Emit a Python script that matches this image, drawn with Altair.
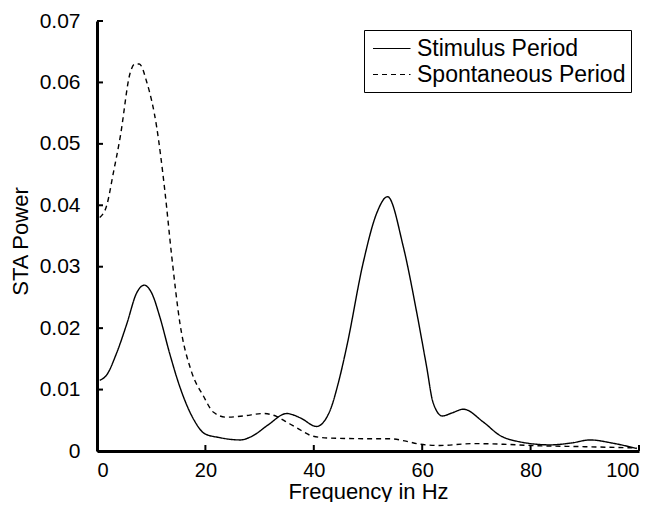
import altair as alt
import pandas as pd

stim_x = [0.5, 1.8, 3.6, 5.5, 7.3, 8.7, 10.1, 11.6, 13.4, 15.3, 17.8, 19.9, 22.5, 26.4, 28.8, 31.5,
          35.0, 37.5, 40.5, 43.0, 44.5, 46.1, 49.1, 51.6, 53.6, 56.5, 59.0, 60.8, 62.0, 63.7, 65.5,
          67.6, 71.3, 74.4, 77.4, 83.6, 87.5, 91.0, 95.0, 99.6]
stim_y = [0.0115, 0.0124, 0.0159, 0.0207, 0.0257, 0.0270, 0.0257, 0.0218, 0.0159, 0.0104, 0.0052,
          0.0028, 0.0022, 0.0018, 0.0025, 0.0042, 0.0061, 0.0054, 0.0040, 0.0066, 0.0110, 0.0171,
          0.0306, 0.0387, 0.0414, 0.0333, 0.0225, 0.0138, 0.0079, 0.0057, 0.0062, 0.0068, 0.0047,
          0.0025, 0.0016, 0.0010, 0.0013, 0.0018, 0.0013, 0.0004]

spon_x = [0.5, 1.8, 3.0, 4.3, 6.1, 7.0, 7.8, 9.2, 11.0, 12.5, 13.8, 15.3, 17.4, 19.6, 21.5, 23.9,
          27.0, 30.7, 33.2, 35.0, 36.8, 39.9, 43.0, 50.0, 54.0, 57.0, 59.6, 63.3, 69.4, 75.0, 80.0,
          90.0, 99.6]
spon_y = [0.0380, 0.0400, 0.0452, 0.0512, 0.0615, 0.0630, 0.0630, 0.0600, 0.0528, 0.0425, 0.0316,
          0.0208, 0.0130, 0.0090, 0.0063, 0.0055, 0.0057, 0.0061, 0.0056, 0.0047, 0.0038, 0.0024,
          0.0021, 0.0020, 0.0020, 0.0016, 0.0011, 0.0009, 0.0012, 0.0011, 0.0009, 0.0007, 0.0005]

series_names = ["Stimulus Period", "Spontaneous Period"]
x_ticks = [0, 20, 40, 60, 80, 100]
y_ticks = [0, 0.01, 0.02, 0.03, 0.04, 0.05, 0.06, 0.07]

W, H = 542, 430
FONT = "Liberation Sans"

df = pd.concat([
    pd.DataFrame({"f": stim_x, "p": stim_y, "s": series_names[0], "o": range(len(stim_x))}),
    pd.DataFrame({"f": spon_x, "p": spon_y, "s": series_names[1], "o": range(len(spon_x))}),
])

xs = alt.Scale(domain=[0, 100], nice=False)
ys = alt.Scale(domain=[0, 0.07], nice=False)

lines = alt.Chart(df).mark_line(color="black", strokeWidth=1.4, interpolate="monotone").encode(
    x=alt.X("f:Q", scale=xs, title="Frequency in Hz",
            axis=alt.Axis(values=x_ticks, tickSize=0, labelPadding=9, labelFontSize=20, titleY=47,
                          titleBaseline="alphabetic", titleFontSize=22, format="d")),
    y=alt.Y("p:Q", scale=ys, title="STA Power",
            axis=alt.Axis(values=y_ticks, tickSize=0, labelPadding=17, titleX=-77, titleY=220,
                          titleAngle=-90, titleAlign="center", titleBaseline="middle",
                          labelExpr="datum.value == 0 ? '0' : format(datum.value, '.2f')")),
    strokeDash=alt.StrokeDash("s:N", scale=alt.Scale(domain=series_names, range=[[1, 0], [5, 4]]),
                              legend=alt.Legend(title=None, orient="none", legendX=267, legendY=9,
                                                strokeColor="black", padding=5, symbolOffset=3,
                                                symbolType="M-1,0H2", symbolSize=625,
                                                symbolStrokeColor="black", symbolStrokeWidth=1.2,
                                                labelFontSize=23, labelFont=FONT, labelColor="black",
                                                rowPadding=0, labelOffset=18, labelLimit=0)),
    order="o:Q",
)

xt = alt.Chart(pd.DataFrame({"t": x_ticks})).mark_rule(color="black", strokeWidth=2).encode(
    x=alt.X("t:Q", scale=xs), y=alt.value(H), y2=alt.value(H - 6))
yt = alt.Chart(pd.DataFrame({"t": y_ticks})).mark_rule(color="black", strokeWidth=2).encode(
    y=alt.Y("t:Q", scale=ys), x=alt.value(0), x2=alt.value(6))

chart = alt.layer(lines, xt, yt).properties(
    width=W, height=H,
    autosize=alt.AutoSizeParams(type="none"),
    padding={"left": 89, "top": 13, "right": 17, "bottom": 51},
).configure_view(stroke=None).configure_axis(
    domainColor="black", domainWidth=3, grid=False, labelFont=FONT, labelFontSize=21,
    labelColor="black", titleFont=FONT, titleFontSize=22, titleColor="black",
    titleFontWeight="normal",
)

chart.save("out.html", embed_options={"renderer": "svg", "actions": False})
